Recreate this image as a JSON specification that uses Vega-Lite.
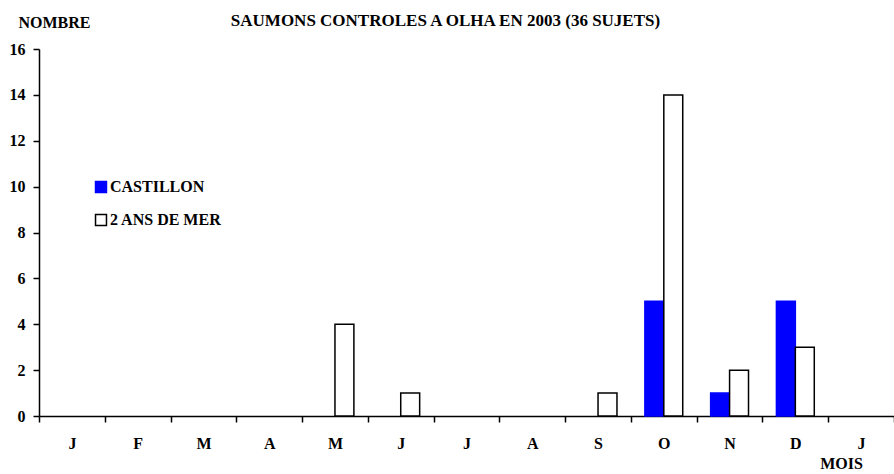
{
  "$schema": "https://vega.github.io/schema/vega-lite/v6.json",
  "width": 855,
  "height": 367,
  "autosize": {"type": "none"},
  "padding": {"left": 39, "top": 49, "right": 0, "bottom": 58},
  "background": "white",
  "title": {
    "text": "SAUMONS CONTROLES A OLHA EN 2003 (36 SUJETS)",
    "font": "Liberation Serif",
    "fontSize": 17,
    "fontWeight": "bold",
    "color": "black",
    "anchor": "middle",
    "dx": -21,
    "offset": -16
  },
  "data": {
    "values": [
      {"mois": "M2", "serie": "2 ANS DE MER", "nombre": 4},
      {"mois": "J2", "serie": "2 ANS DE MER", "nombre": 1},
      {"mois": "S", "serie": "2 ANS DE MER", "nombre": 1},
      {"mois": "O", "serie": "CASTILLON", "nombre": 5},
      {"mois": "O", "serie": "2 ANS DE MER", "nombre": 14},
      {"mois": "N", "serie": "CASTILLON", "nombre": 1},
      {"mois": "N", "serie": "2 ANS DE MER", "nombre": 2},
      {"mois": "D", "serie": "CASTILLON", "nombre": 5},
      {"mois": "D", "serie": "2 ANS DE MER", "nombre": 3}
    ]
  },
  "mark": {"type": "bar", "strokeWidth": 1.5},
  "encoding": {
    "x": {
      "field": "mois",
      "type": "ordinal",
      "scale": {
        "domain": ["J1", "F", "M1", "A1", "M2", "J2", "J3", "A2", "S", "O", "N", "D", "J4"],
        "paddingInner": 0,
        "paddingOuter": 0
      },
      "axis": {
        "title": "MOIS",
        "labelExpr": "isString(datum.value) ? substring(datum.value, 0, 1) : ''",
        "labelAngle": 0,
        "labelFont": "Liberation Serif",
        "labelFontSize": 16,
        "labelFontWeight": "bold",
        "labelColor": "black",
        "labelPadding": 13,
        "tickBand": "extent",
        "tickColor": "black",
        "tickSize": 6,
        "tickWidth": 1.5,
        "domainColor": "black",
        "domainWidth": 1.5,
        "titleFont": "Liberation Serif",
        "titleFontSize": 16,
        "titleFontWeight": "bold",
        "titleColor": "black",
        "titleAngle": 0,
        "titleAlign": "center",
        "titleBaseline": "middle",
        "titleX": 802,
        "titleY": 47
      }
    },
    "xOffset": {
      "field": "serie",
      "type": "nominal",
      "scale": {"domain": ["CASTILLON", "2 ANS DE MER"], "paddingInner": 0, "paddingOuter": 0.737}
    },
    "y": {
      "field": "nombre",
      "type": "quantitative",
      "scale": {"domain": [0, 16], "nice": false},
      "axis": {
        "title": "NOMBRE",
        "values": [0, 2, 4, 6, 8, 10, 12, 14, 16],
        "grid": false,
        "labelFont": "Liberation Serif",
        "labelFontSize": 16,
        "labelFontWeight": "bold",
        "labelColor": "black",
        "labelPadding": 8,
        "tickColor": "black",
        "tickSize": 6,
        "tickWidth": 1.5,
        "domainColor": "black",
        "domainWidth": 1.5,
        "titleFont": "Liberation Serif",
        "titleFontSize": 16,
        "titleFontWeight": "bold",
        "titleColor": "black",
        "titleAngle": 0,
        "titleAlign": "center",
        "titleBaseline": "middle",
        "titleX": 15,
        "titleY": -27
      }
    },
    "fill": {
      "field": "serie",
      "type": "nominal",
      "scale": {"domain": ["CASTILLON", "2 ANS DE MER"], "range": ["#0000FF", "#FFFFFF"]},
      "legend": {
        "title": null,
        "orient": "none",
        "legendX": 54,
        "legendY": 130,
        "symbolType": "square",
        "symbolSize": 120,
        "symbolStrokeWidth": 1.5,
        "symbolOpacity": 1,
        "labelFont": "Liberation Serif",
        "labelFontSize": 16,
        "labelFontWeight": "bold",
        "labelColor": "black",
        "labelOffset": 1,
        "rowPadding": 15
      }
    },
    "stroke": {
      "field": "serie",
      "type": "nominal",
      "scale": {"domain": ["CASTILLON", "2 ANS DE MER"], "range": ["#0000FF", "#000000"]},
      "legend": null
    }
  },
  "config": {
    "view": {"stroke": null}
  }
}
